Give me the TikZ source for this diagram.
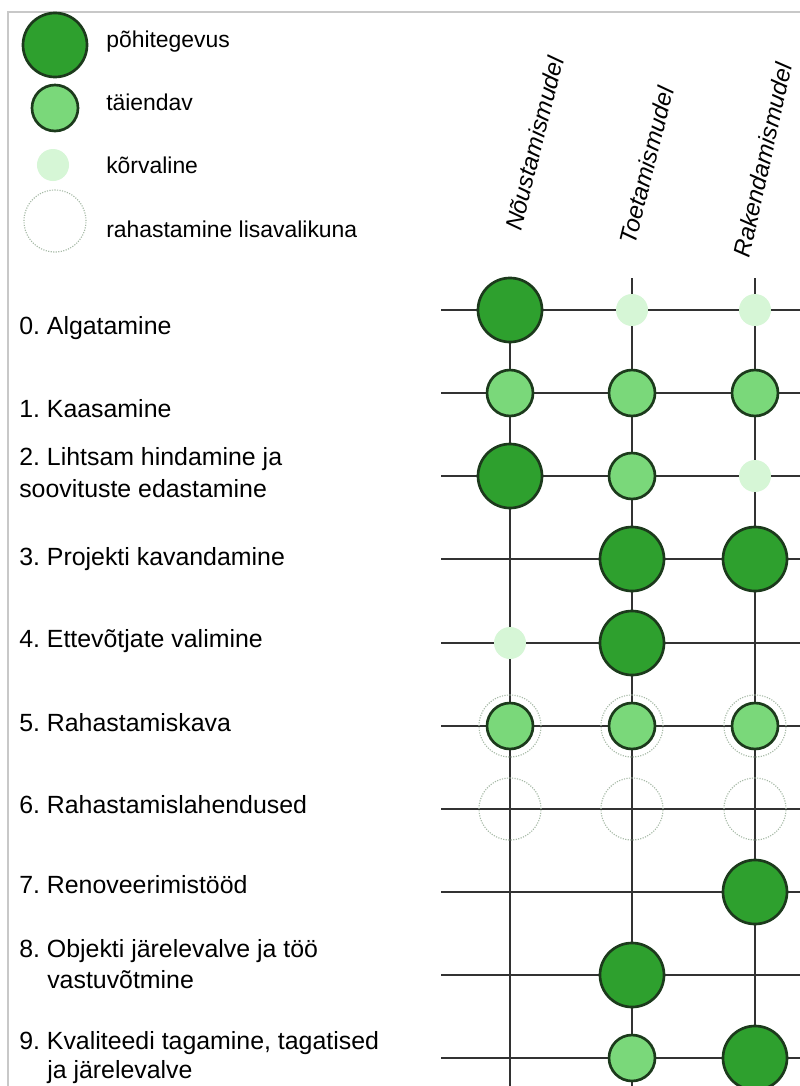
\documentclass[tikz,border=0pt]{standalone}
\usepackage{fontspec}
\setmainfont{Liberation Sans}
\definecolor{pohiroh}{RGB}{46,160,46}
\definecolor{taieroh}{RGB}{122,216,122}
\definecolor{korvroh}{RGB}{214,246,214}
\definecolor{servroh}{RGB}{28,58,28}
\definecolor{rongroh}{RGB}{165,185,165}
\definecolor{joon}{RGB}{50,50,50}
\definecolor{raamhall}{RGB}{200,200,200}
\frenchspacing

\begin{document}
\begin{tikzpicture}[x=0.025cm,y=-0.025cm,
       pohi/.style={circle,draw=servroh,line width=1.9pt,fill=pohiroh,minimum size=1.6cm,inner sep=0pt},
       taie/.style={circle,draw=servroh,line width=1.9pt,fill=taieroh,minimum size=1.15cm,inner sep=0pt},
       korv/.style={circle,fill=korvroh,minimum size=0.8cm,inner sep=0pt},
       rong/.style={circle,draw=rongroh,densely dotted,line width=0.8pt,minimum size=1.55cm,inner sep=0pt},
       joonis/.style={draw=joon,line width=1.6pt},
       silt/.style={anchor=base west,inner sep=0pt,font=\fontsize{17.7}{21}\selectfont},
       legsilt/.style={anchor=base west,inner sep=0pt,font=\fontsize{16.3}{20}\selectfont},
       pealkiri/.style={rotate=76,anchor=west,inner sep=0pt,font=\fontsize{17}{20}\selectfont\itshape}]
       \useasboundingbox(0,0)rectangle(800,1086);
       \fill[white](0,0)rectangle(800,1086);
       \pgfmathsetmacro{\ca}{510};
       \pgfmathsetmacro{\cb}{632};
       \pgfmathsetmacro{\cc}{755};
       % raam
       \coordinate(Fa)at(8,1086);
       \coordinate(Fb)at(8,12);
       \coordinate(Fc)at(800,12);
       \draw[draw=raamhall,line width=1.5pt](Fa)--(Fb)--(Fc);
       % legend
       \node[pohi](Lp)at(55,45){};
       \node[taie](Lt)at(55,108){};
       \node[korv](Lk)at(53,165){};
       \node[rong](Lr)at(55,221){};
       \node[legsilt]at(106,47){põhitegevus};
       \node[legsilt]at(106,110){täiendav};
       \node[legsilt]at(106,173){kõrvaline};
       \node[legsilt]at(106,237){rahastamine lisavalikuna};
       % veerud
       \node[pealkiri]at(513,230){Nõustamismudel};
       \node[pealkiri]at(627,244){Toetamismudel};
       \node[pealkiri,rotate=1.5]at(741,257){Rakendamismudel};
       \coordinate(Ka)at(\ca,278);
       \coordinate(Kb)at(\cb,278);
       \coordinate(Kc)at(\cc,278);
       \coordinate(Ma)at(\ca,1086);
       \coordinate(Mb)at(\cb,1086);
       \coordinate(Mc)at(\cc,1086);
       \draw[joonis](Ka)--(Ma);
       \draw[joonis](Kb)--(Mb);
       \draw[joonis](Kc)--(Mc);
       % read
       \coordinate(W0)at(441,310);\coordinate(E0)at(800,310);
       \coordinate(W1)at(441,393);\coordinate(E1)at(800,393);
       \coordinate(W2)at(441,476);\coordinate(E2)at(800,476);
       \coordinate(W3)at(441,559);\coordinate(E3)at(800,559);
       \coordinate(W4)at(441,643);\coordinate(E4)at(800,643);
       \coordinate(W5)at(441,726);\coordinate(E5)at(800,726);
       \coordinate(W6)at(441,809);\coordinate(E6)at(800,809);
       \coordinate(W7)at(441,892);\coordinate(E7)at(800,892);
       \coordinate(W8)at(441,975);\coordinate(E8)at(800,975);
       \coordinate(W9)at(441,1058);\coordinate(E9)at(800,1058);
       \draw[joonis](W0)--(E0);
       \draw[joonis](W1)--(E1);
       \draw[joonis](W2)--(E2);
       \draw[joonis](W3)--(E3);
       \draw[joonis](W4)--(E4);
       \draw[joonis](W5)--(E5);
       \draw[joonis](W6)--(E6);
       \draw[joonis](W7)--(E7);
       \draw[joonis](W8)--(E8);
       \draw[joonis](W9)--(E9);
       % etapid
       \node[silt](S0)at(19,334){0. Algatamine};
       \node[silt](S1)at(19,417){1. Kaasamine};
       \node[silt](S2)at(19,465){2. Lihtsam hindamine ja};
       \node[silt](S2b)at(19,497){soovituste edastamine};
       \node[silt](S3)at(19,565){3. Projekti kavandamine};
       \node[silt](S4)at(19,647){4. Ettevõtjate valimine};
       \node[silt](S5)at(19,731){5. Rahastamiskava};
       \node[silt](S6)at(19,813){6. Rahastamislahendused};
       \node[silt](S7)at(19,893){7. Renoveerimistööd};
       \node[silt](S8)at(19,957){8. Objekti järelevalve ja töö};
       \node[silt](S8b)at(47,988){vastuvõtmine};
       \node[silt](S9)at(19,1049){9. Kvaliteedi tagamine, tagatised};
       \node[silt](S9b)at(47,1078){ja järelevalve};
       % ringid
       \node[pohi](n0a)at(\ca,310){};
       \node[korv](n0b)at(\cb,310){};
       \node[korv](n0c)at(\cc,310){};
       \node[taie](n1a)at(\ca,393){};
       \node[taie](n1b)at(\cb,393){};
       \node[taie](n1c)at(\cc,393){};
       \node[pohi](n2a)at(\ca,476){};
       \node[taie](n2b)at(\cb,476){};
       \node[korv](n2c)at(\cc,476){};
       \node[pohi](n3b)at(\cb,559){};
       \node[pohi](n3c)at(\cc,559){};
       \node[korv](n4a)at(\ca,643){};
       \node[pohi](n4b)at(\cb,643){};
       \node[rong](r5a)at(\ca,726){};
       \node[rong](r5b)at(\cb,726){};
       \node[rong](r5c)at(\cc,726){};
       \node[taie](n5a)at(\ca,726){};
       \node[taie](n5b)at(\cb,726){};
       \node[taie](n5c)at(\cc,726){};
       \node[rong](r6a)at(\ca,809){};
       \node[rong](r6b)at(\cb,809){};
       \node[rong](r6c)at(\cc,809){};
       \node[pohi](n7c)at(\cc,892){};
       \node[pohi](n8b)at(\cb,975){};
       \node[taie](n9b)at(\cb,1058){};
       \node[pohi](n9c)at(\cc,1058){};
      \end{tikzpicture}
\end{document}
